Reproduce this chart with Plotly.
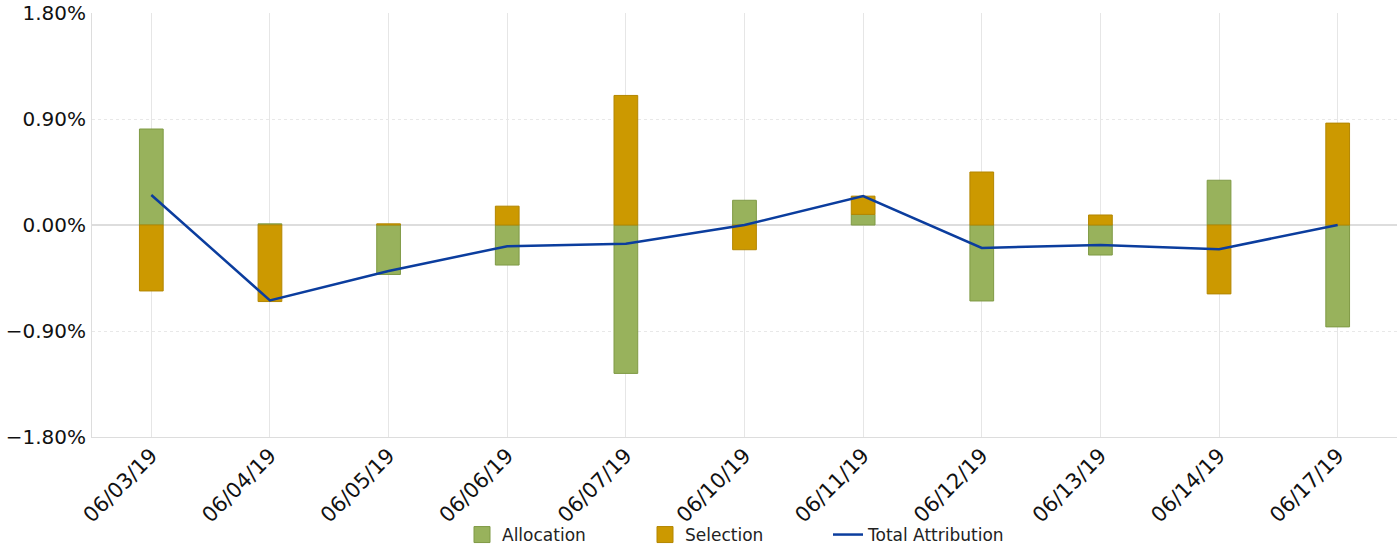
import plotly.graph_objects as go

dates = ["06/03/19", "06/04/19", "06/05/19", "06/06/19", "06/07/19", "06/10/19",
         "06/11/19", "06/12/19", "06/13/19", "06/14/19", "06/17/19"]
allocation = [0.815, 0.01, -0.42, -0.34, -1.26, 0.21, 0.09, -0.645, -0.255, 0.38, -0.865]
selection  = [-0.56, -0.65, 0.01, 0.16, 1.10, -0.21, 0.155, 0.45, 0.085, -0.585, 0.865]
total      = [0.255, -0.64, -0.39, -0.18, -0.16, 0.0, 0.245, -0.195, -0.17, -0.205, 0.0]
y_ticks    = [-1.8, -0.9, 0.0, 0.9, 1.8]

GREEN = "#98B25C"
GOLD  = "#CC9900"
BLUE  = "#0B3D9E"
GREEN_EDGE = "#7F9A45"
GOLD_EDGE  = "#B38600"

fig = go.Figure()
fig.add_trace(go.Bar(
    x=dates, y=[a / 100 for a in allocation], name="Allocation",
    marker=dict(color=GREEN, line=dict(color=GREEN_EDGE, width=1)),
    width=0.2, showlegend=False, legendgroup="alloc",
))
fig.add_trace(go.Bar(
    x=dates, y=[s / 100 for s in selection], name="Selection",
    marker=dict(color=GOLD, line=dict(color=GOLD_EDGE, width=1)),
    width=0.2, showlegend=False, legendgroup="sel",
))

# legend-only entries so the swatches come out as big squares like the original
fig.add_trace(go.Scatter(
    x=[None], y=[None], mode="markers", name="Allocation", legendgroup="alloc",
    marker=dict(symbol="square", size=18, color=GREEN, line=dict(color=GREEN_EDGE, width=1)),
))
fig.add_trace(go.Scatter(
    x=[None], y=[None], mode="markers", name="Selection", legendgroup="sel",
    marker=dict(symbol="square", size=18, color=GOLD, line=dict(color=GOLD_EDGE, width=1)),
))
fig.add_trace(go.Scatter(
    x=dates, y=[t / 100 for t in total], name="Total Attribution",
    mode="lines", line=dict(color=BLUE, width=2.5),
))

fig.update_layout(
    barmode="relative",
    width=1397, height=546,
    margin=dict(l=92, r=0, t=13, b=109, autoexpand=False),
    paper_bgcolor="white", plot_bgcolor="white",
    font=dict(family="DejaVu Sans", color="#111111"),
    showlegend=True,
    legend=dict(orientation="h", xref="container", x=462 / 1397, xanchor="left",
                yref="container", y=11 / 546, yanchor="middle",
                bgcolor="rgba(0,0,0,0)",
                font=dict(size=17, family="DejaVu Sans", color="#222222"),
                itemwidth=30, entrywidth=138, traceorder="normal", tracegroupgap=0),
)
fig.update_xaxes(
    type="category", range=[-0.5, 10.5], tickangle=-45, automargin=False,
    tickfont=dict(size=21), showgrid=True, gridcolor="#E6E6E6",
    showline=True, linecolor="#DDDDDD", ticks="", ticklabelstandoff=-3,
)
fig.update_yaxes(
    range=[-0.018, 0.018], tickvals=[v / 100 for v in y_ticks], tickformat=".2%",
    tickfont=dict(size=20), showgrid=True, gridcolor="#E8E8E8", griddash="dot",
    zeroline=True, zerolinecolor="#DDDDDD", zerolinewidth=1.5, automargin=False,
    showline=True, linecolor="#DDDDDD", mirror=True, ticks="", ticklabelstandoff=1,
)

# page body has an 8px default margin; drop it so the chart sits at 0,0
fig.write_html("out.html", config={"displayModeBar": False},
               post_script="document.body.style.margin='0';")
